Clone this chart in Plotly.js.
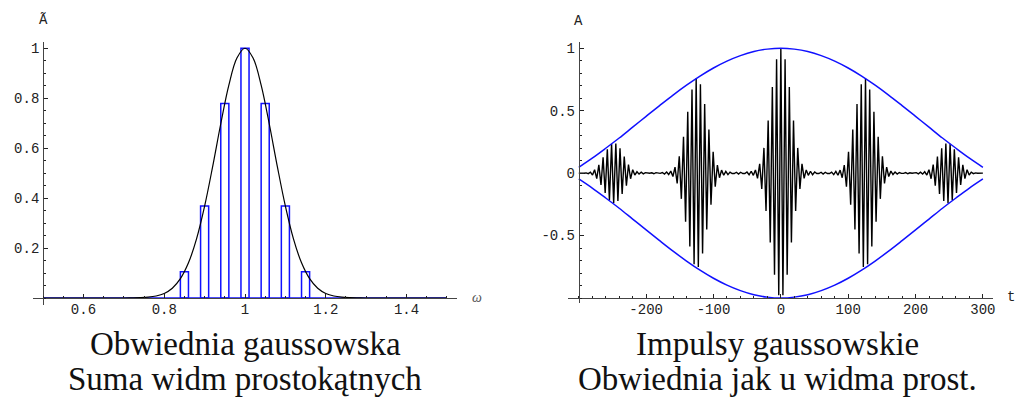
<!DOCTYPE html>
<html>
<head>
<meta charset="utf-8">
<script src="https://cdn.plot.ly/plotly-3.0.1.min.js"></script>
<style>html,body{margin:0;padding:0;background:#fff;}#chart{width:1016px;height:398px;}</style>
</head>
<body>
<div id="chart"></div>
<script>
// ---------- Left panel data: Gaussian spectrum and rectangular components ----------
const barOmega = [0.85, 0.9, 0.95, 1.0, 1.05, 1.1, 1.15];
const barHeight = [0.105, 0.368, 0.779, 1.0, 0.779, 0.368, 0.105];
const baseOmega = [0.5, 1.5];
const baseValue = [0, 0];
const curveOmega = [0.5, 0.6, 0.7, 0.72, 0.74, 0.76, 0.78, 0.8, 0.82, 0.84, 0.86, 0.88, 0.9, 0.92, 0.94, 0.96, 0.98, 1.0,
  1.02, 1.04, 1.06, 1.08, 1.1, 1.12, 1.14, 1.16, 1.18, 1.2, 1.22, 1.24, 1.26, 1.28, 1.3, 1.4, 1.5];
const curveAmp = [0, 0, 0.0001, 0.0004, 0.0012, 0.0032, 0.0079, 0.0183, 0.0392, 0.0773, 0.1409, 0.2369, 0.3679, 0.5273, 0.6977, 0.8521, 0.9608, 1.0,
  0.9608, 0.8521, 0.6977, 0.5273, 0.3679, 0.2369, 0.1409, 0.0773, 0.0392, 0.0183, 0.0079, 0.0032, 0.0012, 0.0004, 0.0001, 0, 0];
const leftXTicks = [0.6, 0.8, 1.0, 1.2, 1.4];
const leftXText = ['0.6', '0.8', '1', '1.2', '1.4'];
const leftYTicks = [0.2, 0.4, 0.6, 0.8, 1.0];
const leftYText = ['0.2', '0.4', '0.6', '0.8', '1'];

// ---------- Right panel data: Gaussian pulses (extrema) and envelope ----------
const tSignal = [-300,
  -298.5, -295.3, -292.2, -289.0, -285.9,
  -282.7, -279.6, -276.5, -273.3, -270.2, -267.0, -263.9, -260.8, -257.6, -254.5,
  -251.3, -248.2, -245.0, -241.9, -238.8, -235.6, -232.5, -229.3, -226.2, -223.1,
  -219.9, -216.8, -213.6, -210.5, -207.3, -204.2, -201.1, -197.9, -194.8, -191.6,
  -188.5, -185.4, -182.2, -179.1, -175.9, -172.8, -169.6, -166.5, -163.4, -160.2,
  -157.1, -153.9, -150.8, -147.7, -144.5, -141.4, -138.2, -135.1, -131.9, -128.8,
  -125.7, -122.5, -119.4, -116.2, -113.1, -110.0, -106.8, -103.7, -100.5, -97.4,
  -94.2, -91.1, -88.0, -84.8, -81.7, -78.5, -75.4, -72.3, -69.1, -66.0,
  -62.8, -59.7, -56.5, -53.4, -50.3, -47.1, -44.0, -40.8, -37.7, -34.6,
  -31.4, -28.3, -25.1, -22.0, -18.8, -15.7, -12.6, -9.4, -6.3, -3.1,
  0,
  3.1, 6.3, 9.4, 12.6, 15.7, 18.8, 22.0, 25.1, 28.3, 31.4,
  34.6, 37.7, 40.8, 44.0, 47.1, 50.3, 53.4, 56.5, 59.7, 62.8,
  66.0, 69.1, 72.3, 75.4, 78.5, 81.7, 84.8, 88.0, 91.1, 94.2,
  97.4, 100.5, 103.7, 106.8, 110.0, 113.1, 116.2, 119.4, 122.5, 125.7,
  128.8, 131.9, 135.1, 138.2, 141.4, 144.5, 147.7, 150.8, 153.9, 157.1,
  160.2, 163.4, 166.5, 169.6, 172.8, 175.9, 179.1, 182.2, 185.4, 188.5,
  191.6, 194.8, 197.9, 201.1, 204.2, 207.3, 210.5, 213.6, 216.8, 219.9,
  223.1, 226.2, 229.3, 232.5, 235.6, 238.8, 241.9, 245.0, 248.2, 251.3,
  254.5, 257.6, 260.8, 263.9, 267.0, 270.2, 273.3, 276.5, 279.6, 282.7,
  285.9, 289.0, 292.2, 295.3, 298.5,
  300];
const aSignal = [0,
  -0.001, 0.001, -0.001, 0.002, -0.004,
  0.008, -0.016, 0.027, -0.044, 0.067, -0.095, 0.126, -0.159, 0.190, -0.216,
  0.234, -0.241, 0.237, -0.223, 0.198, -0.167, 0.133, -0.100, 0.069, -0.045,
  0.028, -0.016, 0.011, -0.008, 0.007, -0.006, 0.004, -0.001, -0.001, 0.003,
  -0.005, 0.004, -0.002, -0.002, 0.005, -0.007, 0.009, -0.011, 0.016, -0.027,
  0.048, -0.083, 0.135, -0.206, 0.292, -0.389, 0.492, -0.588, 0.670, -0.729,
  0.757, -0.751, 0.711, -0.643, 0.554, -0.451, 0.349, -0.253, 0.171, -0.109,
  0.064, -0.037, 0.024, -0.017, 0.014, -0.012, 0.008, -0.003, -0.003, 0.007,
  -0.008, 0.007, -0.003, -0.003, 0.009, -0.013, 0.015, -0.018, 0.026, -0.042,
  0.074, -0.126, 0.202, -0.303, 0.422, -0.555, 0.690, -0.813, 0.912, -0.978,
  1.000,
  -0.978, 0.912, -0.813, 0.690, -0.555, 0.422, -0.303, 0.202, -0.126, 0.074,
  -0.042, 0.026, -0.018, 0.015, -0.013, 0.009, -0.003, -0.003, 0.007, -0.008,
  0.007, -0.003, -0.003, 0.008, -0.012, 0.014, -0.017, 0.024, -0.037, 0.064,
  -0.109, 0.171, -0.253, 0.349, -0.451, 0.554, -0.643, 0.711, -0.751, 0.757,
  -0.729, 0.670, -0.588, 0.492, -0.389, 0.292, -0.206, 0.135, -0.083, 0.048,
  -0.027, 0.016, -0.011, 0.009, -0.007, 0.005, -0.002, -0.002, 0.004, -0.005,
  0.003, -0.001, -0.001, 0.004, -0.006, 0.007, -0.008, 0.011, -0.016, 0.028,
  -0.045, 0.069, -0.100, 0.133, -0.167, 0.198, -0.223, 0.237, -0.241, 0.234,
  -0.216, 0.190, -0.159, 0.126, -0.095, 0.067, -0.044, 0.027, -0.016, 0.008,
  -0.004, 0.002, -0.001, 0.001, -0.001,
  0];
const tEnvelope = [-300, -280, -260, -240, -220, -200, -180, -160, -140, -120, -100, -80, -60, -40, -20, 0,
  20, 40, 60, 80, 100, 120, 140, 160, 180, 200, 220, 240, 260, 280, 300];
const envUpper = [0.047, 0.120, 0.199, 0.281, 0.368, 0.455, 0.541, 0.625, 0.704, 0.777, 0.842, 0.897, 0.941, 0.974, 0.993, 1.0,
  0.993, 0.974, 0.941, 0.897, 0.842, 0.777, 0.704, 0.625, 0.541, 0.455, 0.368, 0.281, 0.199, 0.120, 0.047];
const envLower = [-0.047, -0.120, -0.199, -0.281, -0.368, -0.455, -0.541, -0.625, -0.704, -0.777, -0.842, -0.897, -0.941, -0.974, -0.993, -1.0,
  -0.993, -0.974, -0.941, -0.897, -0.842, -0.777, -0.704, -0.625, -0.541, -0.455, -0.368, -0.281, -0.199, -0.120, -0.047];
const rightXTicks = [-200, -100, 0, 100, 200, 300];
const rightXText = ['-200', '-100', '0', '100', '200', '300'];
const rightYTicks = [-0.5, 0, 0.5, 1];
const rightYText = ['-0.5', '0', '0.5', '1'];

// ---------- styling ----------
const W = 1016, H = 398;
const BLUE = '#1010ff';
const tickFont = {family: 'Liberation Mono, Courier New, monospace', size: 14, color: '#222'};
const px = v => v / W;
const py = v => (H - v) / H;

function axisBase(extra) {
  return Object.assign({
    showgrid: false, zeroline: false, showline: true, linecolor: '#444', linewidth: 1,
    ticks: 'inside', ticklen: 4, tickwidth: 1, tickcolor: '#222',
    tickfont: tickFont, tickmode: 'array', fixedrange: true
  }, extra);
}

const traces = [
  {x: baseOmega, y: baseValue, type: 'scatter', mode: 'lines', xaxis: 'x', yaxis: 'y',
   line: {color: BLUE, width: 1.5}, hoverinfo: 'skip'},
  {x: barOmega, y: barHeight, type: 'bar', xaxis: 'x', yaxis: 'y', width: 0.02,
   marker: {color: 'rgba(0,0,0,0)', line: {color: BLUE, width: 1.5}}, hoverinfo: 'skip'},
  {x: curveOmega, y: curveAmp, type: 'scatter', mode: 'lines', xaxis: 'x', yaxis: 'y',
   line: {color: '#000', width: 1.2, shape: 'spline'}, hoverinfo: 'skip'},
  {x: tSignal, y: aSignal, type: 'scatter', mode: 'lines', xaxis: 'x2', yaxis: 'y2',
   line: {color: '#000', width: 1.4}, hoverinfo: 'skip'},
  {x: tEnvelope, y: envUpper, type: 'scatter', mode: 'lines', xaxis: 'x2', yaxis: 'y2',
   line: {color: BLUE, width: 1.5, shape: 'spline'}, hoverinfo: 'skip'},
  {x: tEnvelope, y: envLower, type: 'scatter', mode: 'lines', xaxis: 'x2', yaxis: 'y2',
   line: {color: BLUE, width: 1.5, shape: 'spline'}, hoverinfo: 'skip'}
];

const serif = {family: 'Liberation Serif, Times New Roman, serif', size: 33, color: '#111'};
const layout = {
  width: W, height: H, margin: {l: 0, r: 0, t: 0, b: 0},
  paper_bgcolor: '#fff', plot_bgcolor: 'rgba(0,0,0,0)', showlegend: false, bargap: 0,
  xaxis: axisBase({domain: [px(33), px(457)], range: [0.475, 1.525], anchor: 'free', position: py(298),
    tickvals: leftXTicks, ticktext: leftXText, ticklabelstandoff: -2,
    minor: {tickmode: 'linear', tick0: 0.5, dtick: 0.05, ticks: 'inside', ticklen: 2, tickcolor: '#222'}}),
  yaxis: axisBase({domain: [py(305), py(42)], range: [-0.028, 1.025], anchor: 'free', position: px(43.1),
    tickvals: leftYTicks, ticktext: leftYText, ticklabelstandoff: 1,
    minor: {tickmode: 'linear', tick0: 0, dtick: 0.05, ticks: 'inside', ticklen: 2, tickcolor: '#222'}}),
  xaxis2: axisBase({domain: [px(568), px(993)], range: [-316, 315], anchor: 'free', position: py(298),
    tickvals: rightXTicks, ticktext: rightXText, ticklabelstandoff: -2,
    minor: {tickmode: 'linear', tick0: 0, dtick: 20, ticks: 'inside', ticklen: 2, tickcolor: '#222'}}),
  yaxis2: axisBase({domain: [py(303), py(42)], range: [-1.04, 1.05], anchor: 'free', position: px(578.8),
    tickvals: rightYTicks, ticktext: rightYText, ticklabelstandoff: 1,
    minor: {tickmode: 'linear', tick0: 0, dtick: 0.1, ticks: 'inside', ticklen: 2, tickcolor: '#222'}}),
  annotations: [
    {text: 'Ã', xref: 'paper', yref: 'paper', x: px(43), y: py(20), showarrow: false, font: tickFont, xanchor: 'center', yanchor: 'middle'},
    {text: 'A', xref: 'paper', yref: 'paper', x: px(578), y: py(21), showarrow: false, font: tickFont, xanchor: 'center', yanchor: 'middle'},
    {text: 'ω', xref: 'paper', yref: 'paper', x: px(477), y: py(297), showarrow: false,
     font: {family: 'Liberation Serif, serif', size: 14, color: '#555', style: 'italic'}, xanchor: 'center', yanchor: 'middle'},
    {text: 't', xref: 'paper', yref: 'paper', x: px(1011), y: py(297), showarrow: false, font: tickFont, xanchor: 'center', yanchor: 'middle'},
    {text: 'Obwiednia gaussowska', xref: 'paper', yref: 'paper', x: px(245), y: py(344), showarrow: false, font: serif, xanchor: 'center', yanchor: 'middle'},
    {text: 'Suma widm prostokątnych', xref: 'paper', yref: 'paper', x: px(245), y: py(379), showarrow: false, font: serif, xanchor: 'center', yanchor: 'middle'},
    {text: 'Impulsy gaussowskie', xref: 'paper', yref: 'paper', x: px(777), y: py(344), showarrow: false, font: serif, xanchor: 'center', yanchor: 'middle'},
    {text: 'Obwiednia jak u widma prost.', xref: 'paper', yref: 'paper', x: px(777), y: py(379), showarrow: false, font: serif, xanchor: 'center', yanchor: 'middle'}
  ]
};

Plotly.newPlot('chart', traces, layout, {displayModeBar: false, staticPlot: true});
</script>
</body>
</html>
